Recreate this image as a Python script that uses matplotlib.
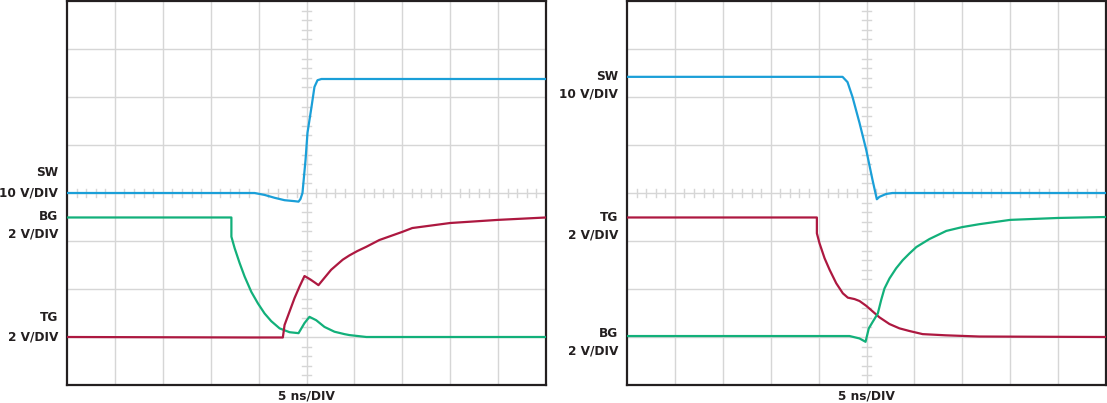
import matplotlib
matplotlib.use("Agg")
import matplotlib.pyplot as plt
import matplotlib.transforms as mtransforms

# ---------------- data (time in ns, 5 ns/div; amplitude in screen divisions) -------------
# Left panel (SW rising edge)
L_sw_t = [-25, -5.42, -4.38, -3.33, -2.29, -1.25, -0.83, -0.63, -0.42, -0.10, 0.10, 0.52, 0.83, 1.15, 1.56, 25]
L_sw_y = [4.0, 4.0, 3.96, 3.90, 3.85, 3.83, 3.82, 3.875, 4.0, 4.69, 5.25, 5.79, 6.21, 6.35, 6.375, 6.375]

L_bg_t = [-25, -7.84, -7.84, -7.5, -6.98, -6.46, -5.76, -5.07, -4.375, -3.68, -2.81, -1.77, -0.83,
          -0.21, 0.31, 1.01, 1.875, 2.92, 3.96, 4.48, 6.25, 25]
L_bg_y = [3.49, 3.49, 3.09, 2.85, 2.54, 2.26, 1.94, 1.70, 1.49, 1.33, 1.18, 1.10, 1.08,
          1.29, 1.42, 1.35, 1.21, 1.11, 1.06, 1.04, 1.0, 1.0]

L_tg_t = [-25, -5.94, -2.47, -2.29, -1.77, -1.25, -0.73, -0.21, 0.31, 0.83, 1.25, 1.70,
          2.57, 3.78, 4.48, 5.3, 6.25, 7.6, 10.0, 11.04, 15.0, 20.0, 25]
L_tg_y = [1.0, 0.99, 0.99, 1.25, 1.53, 1.81, 2.05, 2.27, 2.21, 2.14, 2.08, 2.19,
          2.40, 2.61, 2.70, 2.79, 2.88, 3.02, 3.19, 3.27, 3.375, 3.44, 3.49]

# Right panel (SW falling edge)
R_sw_t = [-25, -2.5, -1.98, -1.46, -0.73, -0.03, 0.63, 1.08, 1.35, 2.05, 2.71, 25]
R_sw_y = [6.42, 6.42, 6.31, 6.0, 5.46, 4.90, 4.27, 3.87, 3.92, 3.98, 4.0, 4.0]

R_tg_t = [-25, -5.18, -5.18, -4.90, -4.375, -3.85, -3.16, -2.47, -1.95, -1.25, -0.73, -0.03, 0.66,
          1.35, 2.40, 3.44, 4.48, 5.86, 8.30, 11.77, 25]
R_tg_y = [3.49, 3.49, 3.16, 2.95, 2.64, 2.40, 2.12, 1.91, 1.82, 1.79, 1.75, 1.65, 1.53,
          1.41, 1.27, 1.18, 1.125, 1.06, 1.035, 1.01, 1.0]

R_bg_t = [-25, -1.77, -0.73, -0.10, 0.24, 0.66, 1.18, 1.53, 1.875, 2.40, 3.09, 3.78, 4.48,
          5.21, 6.56, 8.33, 10.0, 11.77, 15.0, 20.0, 25]
R_bg_y = [1.02, 1.02, 0.97, 0.90, 1.18, 1.32, 1.49, 1.77, 2.01, 2.22, 2.43, 2.60, 2.74,
          2.875, 3.04, 3.21, 3.29, 3.35, 3.44, 3.48, 3.5]

# labels: (name, scale, y of name, y of scale)
L_labels = [("SW", "10 V/DIV", 4.42, 4.0), ("BG", "2 V/DIV", 3.5, 3.15), ("TG", "2 V/DIV", 1.40, 1.0)]
R_labels = [("SW", "10 V/DIV", 6.42, 6.06), ("TG", "2 V/DIV", 3.48, 3.125), ("BG", "2 V/DIV", 1.08, 0.71)]
x_label = "5 ns/DIV"

C_SW = "#1a9fd8"
C_BG = "#12b07a"
C_TG = "#ad1840"
GRID = "#d6d6d6"
FRAME = "#231f20"
FS = 8.7

W, H = 1107, 403
fig = plt.figure(figsize=(W / 100, H / 100), dpi=100)
fig.patch.set_facecolor("white")


def make_panel(left_px, series, labels):
    ax = fig.add_axes([left_px / W, (H - 385) / H, 479 / W, 384 / H])
    ax.set_xlim(-25, 25)
    ax.set_ylim(0, 8)
    ax.set_xticks([])
    ax.set_yticks([])
    for s in ax.spines.values():
        s.set_color(FRAME)
        s.set_linewidth(1.6)
    # grid
    for k in range(1, 10):
        ax.axvline(-25 + 5 * k, color=GRID, lw=1.0, zorder=1)
    for k in range(1, 8):
        ax.axhline(k, color=GRID, lw=1.0, zorder=1)
    # minor ticks on center axes
    for i in range(1, 50):
        x = -25 + i
        if i % 5:
            ax.plot([x, x], [4 - 0.08, 4 + 0.08], color=GRID, lw=1.0, zorder=1)
    for i in range(1, 40):
        y = i * 0.2
        if i % 5:
            ax.plot([-0.42, 0.42], [y, y], color=GRID, lw=1.0, zorder=1)
    for t, y, c in series:
        ax.plot(t, y, color=c, lw=1.6, zorder=3, solid_joinstyle="round", solid_capstyle="round")
    trans = mtransforms.blended_transform_factory(ax.transAxes, ax.transData)
    for name, scale, yn, ys in labels:
        ax.text(-0.019, yn, name, transform=trans, ha="right", va="center",
                fontsize=FS, fontweight="bold", color="#231f20")
        ax.text(-0.019, ys, scale, transform=trans, ha="right", va="center",
                fontsize=FS, fontweight="bold", color="#231f20")
    ax.text(0.5, -0.029, x_label, transform=ax.transAxes, ha="center", va="center",
            fontsize=FS, fontweight="bold", color="#231f20")
    return ax


make_panel(67, [(L_sw_t, L_sw_y, C_SW), (L_bg_t, L_bg_y, C_BG), (L_tg_t, L_tg_y, C_TG)], L_labels)
make_panel(627, [(R_sw_t, R_sw_y, C_SW), (R_tg_t, R_tg_y, C_TG), (R_bg_t, R_bg_y, C_BG)], R_labels)

fig.savefig("out.png", dpi=100, facecolor="white")
